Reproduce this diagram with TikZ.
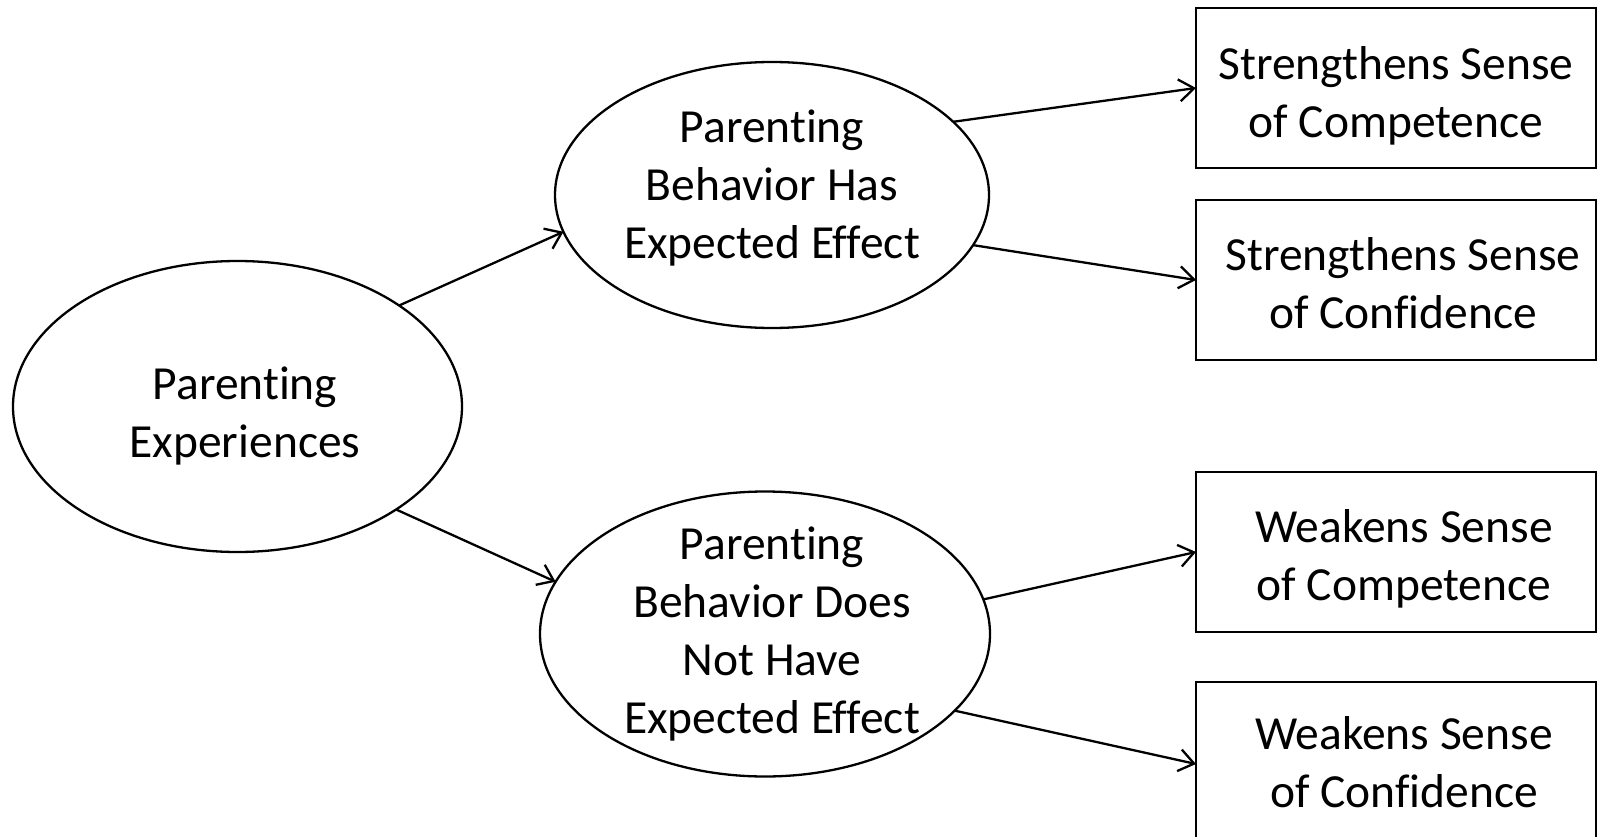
\documentclass[tikz,border=0pt]{standalone}
\usepackage{fontspec}
\setmainfont{Carlito}[Ligatures=NoCommon]
\usetikzlibrary{shapes.geometric,arrows.meta}
\begin{document}
\begin{tikzpicture}[x=1pt,y=-1pt,
  shp/.style={draw=black,line width=2.3pt,inner sep=0pt,outer sep=0pt},
  ell/.style={shp,ellipse},
  box/.style={shp,rectangle,minimum width=400pt,minimum height=160pt},
  lbl/.style={align=center,inner sep=0pt,font=\fontsize{47.5}{58}\selectfont,
    execute at begin node=\strut,execute at end node=\strut},
  arr/.style={line width=2.3pt,-{Straight Barb[length=15pt,width=22pt,line width=2.3pt]}}]
\useasboundingbox[fill=white] (0,0) rectangle (1597,837);
% ellipses
\node[ell,minimum width=434pt,minimum height=266pt] (has) at (772,195) {};
\node[ell,minimum width=449pt,minimum height=291pt] (pe) at (237.5,406.5) {};
\node[ell,minimum width=450pt,minimum height=285pt] (hasnot) at (765,634) {};
\node[lbl] (pet) at (245,420.4) {Parenting\\Experiences};
\node[lbl] (hast) at (772,193) {Parenting\\Behavior Has\\Expected Effect};
\node[lbl] (hasnott) at (772,638.5) {Parenting\\Behavior Does\\Not Have\\Expected Effect};
% boxes
\node[box] (b1) at (1396,88) {};
\node[box] (b2) at (1396,280) {};
\node[box] (b3) at (1396,552) {};
\node[box] (b4) at (1396,762) {};
\node[lbl] (b1t) at (1396,100.5) {Strengthens Sense\\of Competence};
\node[lbl] (b2t) at (1403,291.5) {Strengthens Sense\\of Confidence};
\node[lbl] (b3t) at (1404,563.4) {Weakens Sense\\of Competence};
\node[lbl] (b4t) at (1404,771) {Weakens Sense\\of Confidence};
% connectors
\draw[arr] (pe.32) -- (has.190.8);
\draw[arr] (pe.-33) -- (hasnot.166);
\draw[arr] (has.22) -- (b1.west);
\draw[arr] (has.-14.8) -- (b2.west);
\draw[arr] (hasnot.9) -- (b3.west);
\draw[arr] (hasnot.-22) -- ([yshift=-2pt]b4.west);
\end{tikzpicture}
\end{document}
